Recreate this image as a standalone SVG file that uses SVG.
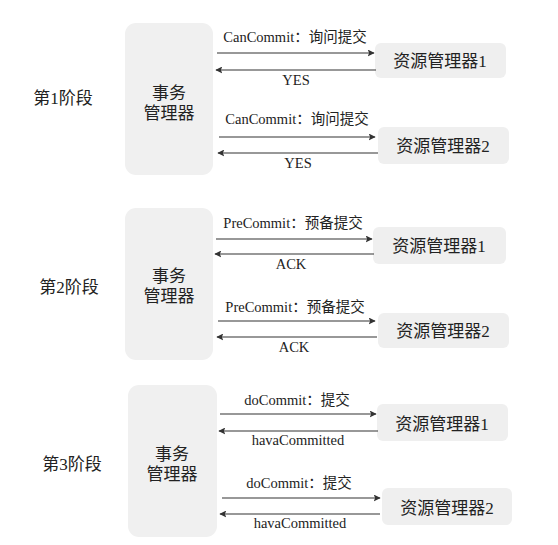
<svg xmlns="http://www.w3.org/2000/svg" width="558" height="545" viewBox="0 0 558 545">
<style>
.bg{fill:#ffffff}
.tm{fill:#f0f0f0}
.rm{fill:#efefef}
.t{font-family:"Liberation Serif","Noto Sans CJK SC",serif;fill:#222}
.big{font-size:17px}
.lbl{font-size:14.5px}
.ln{stroke:#333;stroke-width:1.2;fill:none}
.fw{marker-end:url(#ah)}
</style>
<defs>
<marker id="ah" viewBox="0 0 10 10" refX="9" refY="5" markerWidth="7" markerHeight="7" markerUnits="userSpaceOnUse" orient="auto">
<path d="M0,0 L10,5 L0,10 L2,5 Z" fill="#333"/>
</marker>
</defs>
<rect class="bg" width="558" height="545"/>

<g id="stage1">
<text class="t big" x="63" y="104" text-anchor="middle">第1阶段</text>
</g>
<g id="tm1">
<rect class="tm" x="125" y="23" width="88" height="152" rx="11"/>
<text class="t big" x="169" y="99" text-anchor="middle">事务</text>
<text class="t big" x="169" y="119" text-anchor="middle">管理器</text>
</g>
<g id="rm1a">
<rect class="rm" x="375" y="43" width="131" height="35" rx="6"/>
<text class="t big" x="440" y="67" text-anchor="middle">资源管理器1</text>
</g>
<g id="rm1b">
<rect class="rm" x="378" y="127" width="131" height="37" rx="6"/>
<text class="t big" x="443" y="152" text-anchor="middle">资源管理器2</text>
</g>

<g id="stage2">
<text class="t big" x="69" y="293" text-anchor="middle">第2阶段</text>
</g>
<g id="tm2">
<rect class="tm" x="125" y="208" width="88" height="152" rx="11"/>
<text class="t big" x="169" y="282" text-anchor="middle">事务</text>
<text class="t big" x="169" y="302" text-anchor="middle">管理器</text>
</g>
<g id="rm2a">
<rect class="rm" x="373" y="227" width="133" height="37" rx="6"/>
<text class="t big" x="439" y="252" text-anchor="middle">资源管理器1</text>
</g>
<g id="rm2b">
<rect class="rm" x="378" y="313" width="131" height="35" rx="6"/>
<text class="t big" x="443" y="337" text-anchor="middle">资源管理器2</text>
</g>

<g id="stage3">
<text class="t big" x="72" y="470" text-anchor="middle">第3阶段</text>
</g>
<g id="tm3">
<rect class="tm" x="128" y="385" width="89" height="152" rx="11"/>
<text class="t big" x="172" y="460" text-anchor="middle">事务</text>
<text class="t big" x="172" y="480" text-anchor="middle">管理器</text>
</g>
<g id="rm3a">
<rect class="rm" x="377" y="404" width="131" height="37" rx="6"/>
<text class="t big" x="442" y="430" text-anchor="middle">资源管理器1</text>
</g>
<g id="rm3b">
<rect class="rm" x="382" y="488" width="130" height="37" rx="6"/>
<text class="t big" x="447" y="514" text-anchor="middle">资源管理器2</text>
</g>

<g id="connectors">
<line class="ln fw" x1="217" y1="53" x2="374" y2="53"/>
<line class="ln fw" x1="376" y1="70" x2="216" y2="70"/>
<line class="ln fw" x1="219" y1="137" x2="375" y2="137"/>
<line class="ln fw" x1="378" y1="153" x2="218" y2="153"/>

<line class="ln fw" x1="216" y1="239" x2="372" y2="239"/>
<line class="ln fw" x1="374" y1="254" x2="215" y2="254"/>
<line class="ln fw" x1="218" y1="321" x2="375" y2="321"/>
<line class="ln fw" x1="377" y1="337" x2="217" y2="337"/>

<line class="ln fw" x1="220" y1="414" x2="376" y2="414"/>
<line class="ln fw" x1="378" y1="431" x2="219" y2="431"/>
<line class="ln fw" x1="222" y1="498" x2="380" y2="498"/>
<line class="ln fw" x1="380" y1="514" x2="220" y2="514"/>

<text class="t lbl" x="295" y="42" text-anchor="middle">CanCommit：询问提交</text>
<text class="t lbl" x="296" y="85" text-anchor="middle">YES</text>
<text class="t lbl" x="297" y="124" text-anchor="middle">CanCommit：询问提交</text>
<text class="t lbl" x="298" y="168" text-anchor="middle">YES</text>

<text class="t lbl" x="293" y="228" text-anchor="middle">PreCommit：预备提交</text>
<text class="t lbl" x="291" y="269" text-anchor="middle">ACK</text>
<text class="t lbl" x="295" y="312" text-anchor="middle">PreCommit：预备提交</text>
<text class="t lbl" x="294" y="352" text-anchor="middle">ACK</text>

<text class="t lbl" x="297" y="405" text-anchor="middle">doCommit：提交</text>
<text class="t lbl" x="298" y="445" text-anchor="middle">havaCommitted</text>
<text class="t lbl" x="299" y="488" text-anchor="middle">doCommit：提交</text>
<text class="t lbl" x="300" y="528" text-anchor="middle">havaCommitted</text>
</g>
</svg>
